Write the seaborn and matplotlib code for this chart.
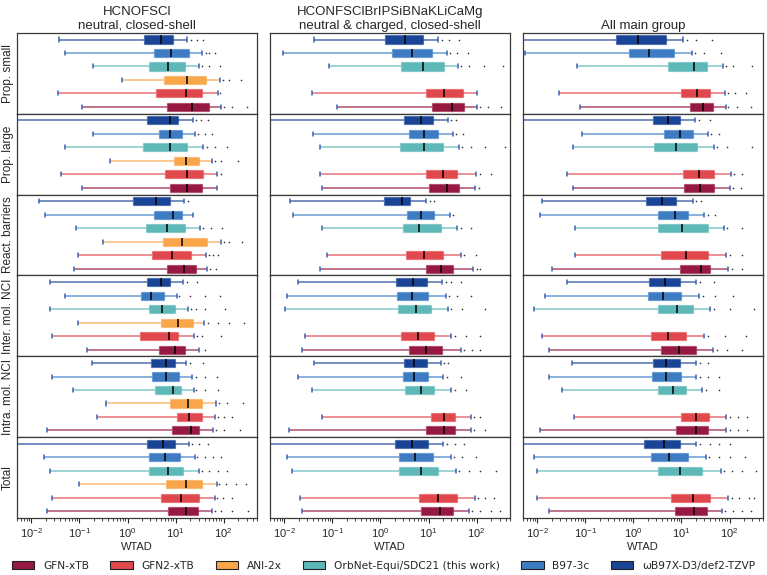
import numpy as np
import pandas as pd
import matplotlib
matplotlib.use("Agg")
import matplotlib.pyplot as plt
from matplotlib.patches import Patch
from matplotlib.colors import to_rgba
import seaborn as sns

methods = ["GFN-xTB", "GFN2-xTB", "ANI-2x", "OrbNet-Equi/SDC21 (this work)",
           "B97-3c", "ωB97X-D3/def2-TZVP"]
colors = ["#961941", "#e0484e", "#f9a64a", "#5eb8b8", "#3d7cc3", "#1a4596"]
groups = ["Prop. small", "Prop. large", "React. barriers",
          "Inter. mol. NCI", "Intra. mol. NCI", "Total"]
titles = ["HCNOFSCl\nneutral, closed-shell",
          "HCONFSClBrIPSiBNaKLiCaMg\nneutral & charged, closed-shell",
          "All main group"]

# five-number summaries per group (rows) and method (legend order):
# [whisker low, Q1, median, Q3, whisker high]
col1_boxes = [
    [[0.113, 6.6, 22, 49, 89], [0.035, 4.0, 16.5, 35, 76], [0.78, 5.8, 17.5, 42, 85],
     [0.19, 2.8, 6.8, 15.7, 31], [0.051, 3.5, 8.1, 18.7, 36], [0.038, 2.2, 4.9, 9.0, 17.5]],
    [[0.113, 7.7, 17, 35, 72], [0.042, 6.1, 17.5, 37, 74], [0.43, 9.3, 16.2, 30, 57],
     [0.049, 2.1, 7.5, 17.5, 37.5], [0.187, 4.6, 7.5, 13.8, 25], [0.004, 2.5, 7.5, 11.4, 22.6]],
    [[0.076, 6.6, 15, 26, 46], [0.092, 3.3, 8.3, 20.6, 42.5], [0.31, 5.4, 13.4, 45, 88],
     [0.085, 2.4, 6.6, 15.7, 32], [0.019, 3.6, 8.7, 13.6, 22.6], [0.0144, 1.3, 3.9, 7.8, 15.2]],
    [[0.142, 4.5, 9.7, 15.7, 30], [0.027, 1.8, 7.4, 11.4, 24.4], [0.095, 4.9, 11.1, 22.6, 39],
     [0.024, 2.8, 5.3, 9.7, 18.4], [0.05, 1.9, 3.1, 5.8, 10.9], [0.025, 2.6, 4.9, 7.8, 14]],
    [[0.021, 8.6, 20.6, 30.4, 60], [0.23, 10.6, 19.2, 34.7, 65], [0.36, 7.7, 18.4, 35.7, 70],
     [0.072, 3.8, 8.7, 13, 23.7], [0.027, 3.2, 6.3, 11.8, 22.2], [0.18, 3.1, 6.3, 9.7, 16.5]],
    [[0.021, 6.9, 16.5, 29, 57], [0.027, 5.0, 13, 30.4, 65], [0.096, 6.4, 16.2, 34.7, 72],
     [0.024, 2.8, 7.1, 14, 30.4], [0.018, 2.8, 6.1, 12.4, 25], [0.004, 2.5, 5.4, 9.5, 19.2]],
]
col1_fliers = [
    [[100, 150, 310], [82], [95, 130, 230], [36, 50, 83], [42, 50, 65], [21, 28, 37]],
    [[], [89], [65, 90, 195], [45, 65, 120], [29, 40, 56], [26, 33, 47]],
    [[52, 70], [50, 60, 75], [100, 130, 245], [38, 55, 94], [], [18]],
    [[40], [28, 35, 89], [48, 75, 130, 270], [21, 27, 40, 108], [12, 20, 40, 85], [17, 28]],
    [[70, 100, 215], [75, 100, 150], [80, 120, 250], [27, 40, 76], [26, 40, 72], [20, 37]],
    [[65, 90, 150, 316], [72, 95, 150], [80, 110, 180, 285], [35, 50, 75, 120],
     [28, 40, 60, 89], [22, 30, 47]],
]

col2_boxes = [
    [[0.124, 11.8, 30.6, 55, 103], [0.038, 8.9, 21, 52, 103], None,
     [0.086, 2.7, 7.8, 21, 41], [0.0095, 1.74, 4.5, 11.6, 24], [0.041, 1.23, 3.3, 7.6, 15.9]],
    [[0.06, 10.2, 24, 42, 91], [0.055, 8.9, 20, 40, 95], None,
     [0.055, 2.6, 8.1, 20, 42], [0.04, 4.0, 8.1, 15.7, 32], [0.004, 3.1, 7.0, 12.4, 25]],
    [[0.055, 8.9, 18, 32, 83], [0.077, 3.4, 8.1, 20, 47], None,
     [0.06, 3.0, 6.4, 18, 40], [0.015, 3.6, 7.0, 13, 28], [0.013, 1.2, 2.8, 4.2, 8.9]],
    [[0.023, 4.0, 8.9, 19, 47], [0.027, 2.7, 6.1, 13, 29], None,
     [0.0105, 2.35, 5.5, 11.2, 25], [0.0115, 2.2, 4.6, 9.7, 23], [0.019, 2.1, 4.8, 9.3, 19]],
    [[0.0127, 8.9, 21, 35, 75], [0.06, 11.2, 21, 35, 75], None,
     [0.038, 3.3, 7.0, 13, 29], [0.019, 3.0, 5.0, 9.7, 20], [0.042, 3.1, 5.0, 9.3, 18]],
    [[0.023, 7.0, 17.5, 32.5, 69], [0.021, 6.4, 15.7, 39, 91], None,
     [0.0146, 2.46, 7.0, 15.7, 37], [0.0115, 2.46, 5.3, 12.4, 29], [0.004, 2.0, 4.6, 9.7, 20]],
]
col2_fliers = [
    [[120, 170, 323], [], [], [48, 70, 140, 355], [28, 40, 66], [19, 27, 43]],
    [[110], [115, 195], [], [50, 75, 150, 390], [38, 51], [30, 37]],
    [[100, 120], [55, 95], [], [48, 75], [33], [10.5, 13]],
    [[55, 80, 120], [35, 60, 120], [], [30, 50, 150], [27, 40, 75], [23, 30, 47]],
    [[90, 150], [90, 120], [], [35, 60], [24, 47], [21, 26]],
    [[80, 120, 200, 310], [105, 150, 230], [], [44, 70, 120, 250], [34, 50, 95], [24, 35, 55]],
]

col3_boxes = [
    [[0.076, 15.2, 28, 45, 83], [0.029, 9.7, 20.6, 39, 80], None,
     [0.067, 5.2, 17.8, 33.5, 73], [0.0057, 0.8, 2.1, 7.1, 16.2], [0.003, 0.43, 1.25, 4.8, 10.9]],
    [[0.055, 11.2, 24, 47, 100], [0.042, 10.7, 23, 47, 105], None,
     [0.055, 2.7, 7.7, 21, 47], [0.085, 4.4, 9.3, 17.3, 35], [0.003, 2.6, 5.3, 9.3, 19]],
    [[0.02, 9.3, 25, 40, 95], [0.06, 3.8, 12.4, 35, 83], None,
     [0.06, 3.3, 10.2, 35, 75], [0.0116, 3.3, 7.3, 13.6, 29], [0.0126, 1.85, 4.0, 7.7, 17.3]],
    [[0.0177, 3.8, 8.9, 20, 45], [0.0126, 2.35, 5.3, 12.4, 29], None,
     [0.0087, 3.3, 8.1, 17.3, 40], [0.0146, 2.0, 4.2, 9.7, 23], [0.042, 2.1, 4.6, 9.3, 20]],
    [[0.0116, 7.7, 20, 35, 83], [0.058, 9.7, 20, 37, 83], None,
     [0.033, 3.3, 6.7, 12.4, 26.5], [0.0177, 2.46, 4.8, 9.7, 20], [0.053, 2.6, 4.8, 9.3, 20]],
    [[0.0174, 7.3, 18.3, 33.5, 70], [0.01, 6.1, 17.3, 40, 95], None,
     [0.01, 3.3, 9.3, 26.5, 65], [0.0087, 2.35, 5.5, 13.6, 32], [0.003, 1.7, 4.4, 9.3, 20]],
]
col3_fliers = [
    [[95, 140, 280], [92, 130, 220], [], [85, 120, 295], [19, 30, 65], [13, 20, 44]],
    [[120, 170], [125, 180], [], [55, 90, 300], [42, 60], [23, 40]],
    [[110, 180], [100, 180], [], [90, 180], [35, 50], [20, 25]],
    [[55, 90, 180], [35, 80, 220], [], [48, 100, 330], [28, 50, 120], [24, 47]],
    [[100, 150, 230], [100, 150, 230], [], [32, 60], [24, 35, 60], [24, 35]],
    [[82, 120, 180, 280], [110, 160, 250, 330], [], [75, 110, 180, 350],
     [38, 60, 100, 210], [24, 40, 60, 100]],
]

box_cols = [col1_boxes, col2_boxes, col3_boxes]
flier_cols = [col1_fliers, col2_fliers, col3_fliers]

sns.set_theme(style="ticks")
plt.rcParams["font.family"] = ["Liberation Sans", "DejaVu Sans"]
plt.rcParams["mathtext.fontset"] = "custom"
plt.rcParams["mathtext.rm"] = "Liberation Sans"
plt.rcParams["mathtext.it"] = "Liberation Sans:italic"
plt.rcParams["axes.edgecolor"] = "#3a3a3a"
plt.rcParams["axes.linewidth"] = 0.9

palette = dict(zip(methods, colors))
order = methods[::-1]   # top to bottom inside each panel
cap_color = "#3a62b5"

fig = plt.figure(figsize=(7.67, 5.75), dpi=100)
gs = fig.add_gridspec(6, 3, left=0.022, right=0.995, top=0.943, bottom=0.099,
                      wspace=0.052, hspace=0)

for c in range(3):
    for g in range(6):
        ax = fig.add_subplot(gs[g, c])
        rows, frows = [], []
        for m, stats, fl in zip(methods, box_cols[c][g], flier_cols[c][g]):
            if stats is None:
                continue
            rows += [(m, v) for v in stats]
            frows += [(m, v) for v in fl]
        df = pd.DataFrame(rows, columns=["method", "wtad"])
        fdf = pd.DataFrame(frows, columns=["method", "wtad"])
        present = [m for m in order if m in set(df["method"])]

        sns.boxplot(data=df, x="wtad", y="method", hue="method", order=order,
                    hue_order=order, palette=palette, saturation=1, whis=np.inf,
                    width=0.6, log_scale=True, legend=False, ax=ax)
        for cont, m in zip(ax.containers, present):
            col = palette[m]
            for b in cont.boxes:
                b.set_facecolor(col)
                b.set_edgecolor(to_rgba(col, 0.5))
                b.set_linewidth(0.9)
            for w in cont.whiskers:
                w.set_color(to_rgba(col, 0.7))
                w.set_linewidth(1.2)
            for cp in cont.caps:
                cp.set_color(cap_color)
                cp.set_linewidth(1.1)
            for md in cont.medians:
                md.set_color("black")
                md.set_linewidth(1.1)
        if len(fdf):
            sns.stripplot(data=fdf, x="wtad", y="method", order=order, jitter=False,
                          color="0.2", size=1.2, linewidth=0, log_scale=True, ax=ax)

        ax.set_xlim(5e-3, 5e2)
        ax.set_ylim(5.5, -0.5)
        ax.set_yticks([])
        ax.set_ylabel(groups[g] if c == 0 else "", fontsize=8.5, labelpad=2)
        for sp in ax.spines.values():
            sp.set_visible(True)
        if g == 5:
            ax.set_xlabel("WTAD", fontsize=8, labelpad=2)
            ax.tick_params(axis="x", which="major", length=3.5, width=0.8, labelsize=8, pad=2)
            ax.tick_params(axis="x", which="minor", length=2, width=0.6)
        else:
            ax.set_xlabel("")
            ax.tick_params(axis="x", which="both", bottom=False, labelbottom=False)
        if g == 0:
            ax.set_title(titles[c], fontsize=9.5, pad=3)

handles = [Patch(facecolor=col, edgecolor="#222222", linewidth=0.8, label=m)
           for m, col in zip(methods, colors)]
fig.legend(handles=handles, loc="lower center", ncol=6, frameon=False,
           bbox_to_anchor=(0.5, -0.01), prop={"family": "DejaVu Sans", "size": 7.7},
           handlelength=2.1, handleheight=0.75, handletextpad=0.8, columnspacing=2.0)

fig.savefig("out.png", dpi=100)
